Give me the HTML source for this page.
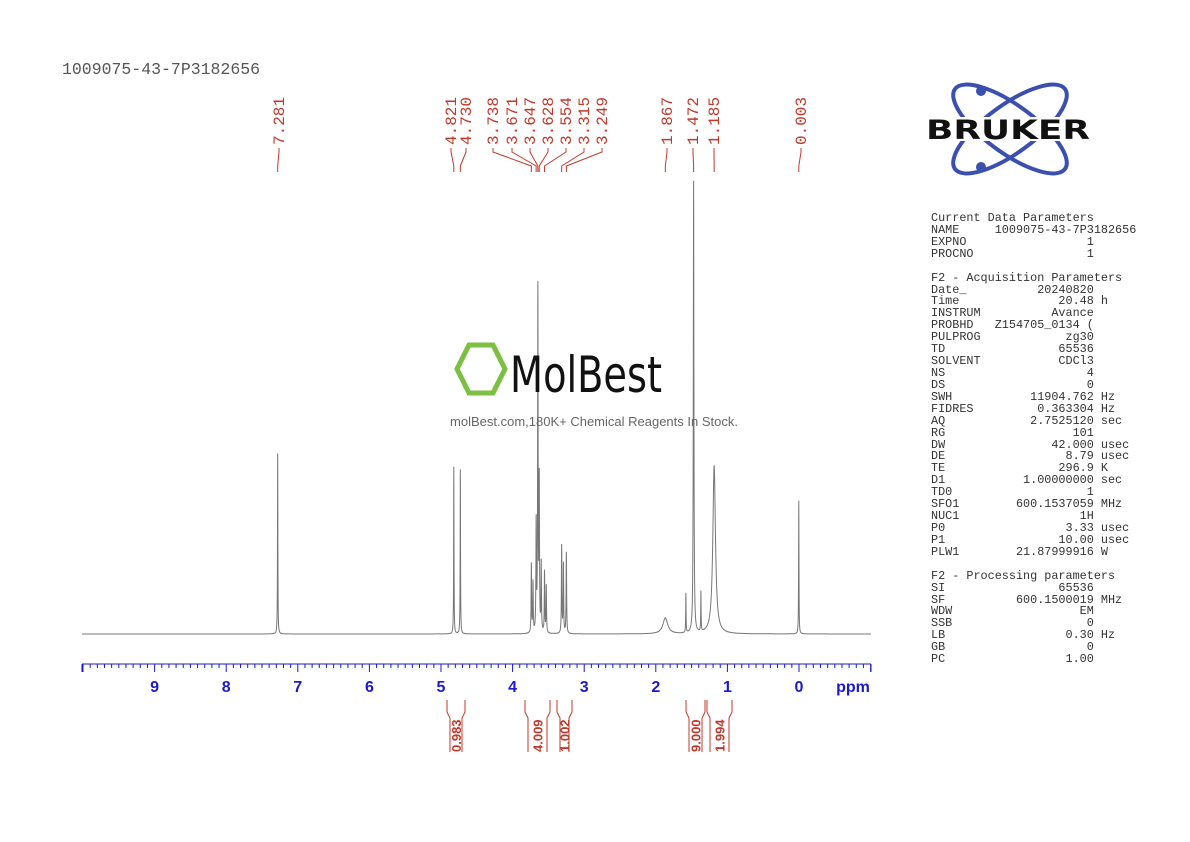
<!DOCTYPE html>
<html><head><meta charset="utf-8"><style>
body{margin:0;background:#fff;width:1190px;height:842px;overflow:hidden;position:relative}
pre{margin:0;font-family:"Liberation Mono",monospace}
</style></head><body>
<svg id="s" width="1190" height="842" style="position:absolute;left:0;top:0" xmlns="http://www.w3.org/2000/svg">
<text x="62" y="74" font-family="Liberation Mono,monospace" font-size="16.5" fill="#555">1009075-43-7P3182656</text>
<g id="labels" font-family="Liberation Mono,monospace" font-size="16" fill="#c0392b"></g>
<g id="conn" stroke="#c0392b" stroke-width="1" fill="none"></g>
<path id="spec" stroke="#777" stroke-width="1" fill="none"/>
<g id="axis" stroke="#1a1acc" stroke-width="1"></g>
<g id="axl" font-family="Liberation Sans,sans-serif" font-weight="bold" font-size="16" fill="#1a1acc" text-anchor="middle"></g>
<g id="integ" stroke="#c0392b" stroke-width="1" fill="none"></g>
<g id="intl" font-family="Liberation Sans,sans-serif" font-weight="bold" font-size="13" fill="#c0392b"></g>
<!-- Bruker logo -->
<ellipse cx="1010" cy="129" rx="68" ry="24" transform="rotate(36 1010 129)" stroke="#3a4fb0" stroke-width="4" fill="none"/>
<ellipse cx="1010" cy="129" rx="68" ry="24" transform="rotate(-36 1010 129)" stroke="#3a4fb0" stroke-width="4" fill="none"/>
<circle cx="981" cy="91" r="5" fill="#3a4fb0"/><circle cx="981" cy="167" r="5" fill="#3a4fb0"/>
<rect x="925" y="117" width="166" height="24" fill="#fff"/>
<text x="926" y="139" font-family="DejaVu Sans,sans-serif" font-weight="bold" font-size="27" fill="#111" textLength="164" lengthAdjust="spacingAndGlyphs">BRUKER</text>
<!-- MolBest -->
<polygon points="469,345 493,345 505,369 493,393 469,393 457,369" stroke="#7bc043" stroke-width="5" fill="none"/>
<text x="510" y="392" font-family="DejaVu Sans Condensed,Liberation Sans,sans-serif" font-size="50" fill="#111" textLength="152" lengthAdjust="spacingAndGlyphs">MolBest</text>
<text x="594" y="426" text-anchor="middle" font-family="Liberation Sans,sans-serif" font-size="13" fill="#666">molBest.com,180K+ Chemical Reagents In Stock.</text>
</svg>
<pre style="position:absolute;left:931px;top:213px;font-size:11.8px;line-height:11.92px;color:#333">Current Data Parameters
NAME     1009075-43-7P3182656
EXPNO                 1
PROCNO                1

F2 - Acquisition Parameters
Date_          20240820
Time              20.48 h
INSTRUM          Avance
PROBHD   Z154705_0134 (
PULPROG            zg30
TD                65536
SOLVENT           CDCl3
NS                    4
DS                    0
SWH           11904.762 Hz
FIDRES         0.363304 Hz
AQ            2.7525120 sec
RG                  101
DW               42.000 usec
DE                 8.79 usec
TE                296.9 K
D1           1.00000000 sec
TD0                   1
SFO1        600.1537059 MHz
NUC1                 1H
P0                 3.33 usec
P1                10.00 usec
PLW1        21.87999916 W

F2 - Processing parameters
SI                65536
SF          600.1500019 MHz
WDW                  EM
SSB                   0
LB                 0.30 Hz
GB                    0
PC                 1.00</pre>
<script>
const X=p=>799-71.6*p, NS="http://www.w3.org/2000/svg";
function el(g,t,a,txt){const e=document.createElementNS(NS,t);for(const k in a)e.setAttribute(k,a[k]);if(txt!=null)e.textContent=txt;document.getElementById(g).appendChild(e);return e;}
const peaks=[[7.281,182,.003],[4.821,168,.003],[4.730,168,.003],[3.738,70,.004],[3.715,50,.004],[3.671,110,.004],[3.647,345,.004],[3.628,150,.004],[3.60,70,.004],[3.554,62,.004],[3.53,48,.004],[3.315,90,.004],[3.29,70,.004],[3.249,82,.004],[1.867,16,.04],[1.58,40,.003],[1.472,452,.005],[1.37,40,.003],[1.185,168,.022],[0.003,134,.003]];
let d="";for(let x=82;x<=871;x+=0.1){const p=(799-x)/71.6;let y=0;for(const[c,a,w]of peaks){const u=(p-c)/w;y+=a/(1+u*u);}d+=(x===82?"M":"L")+x.toFixed(1)+","+(634-y).toFixed(1);}
document.getElementById("spec").setAttribute("d",d);
el("axis","line",{x1:82,y1:664,x2:871,y2:664});
for(let i=-10;i<=100;i++){const p=i/10,x=X(p);if(x<81.5||x>871.5)continue;const maj=i%10===0;el("axis","line",{x1:x,y1:664,x2:x,y2:maj?672:668});if(maj&&i>=0&&i<=90)el("axl","text",{x:x,y:692},String(p));}
el("axis","line",{x1:82,y1:664,x2:82,y2:672});el("axis","line",{x1:871,y1:664,x2:871,y2:672});
el("axl","text",{x:853,y:692},"ppm");
const L=[[7.281,279],[4.821,451],[4.730,466],[3.738,493],[3.671,512],[3.647,530],[3.628,548],[3.554,566],[3.315,584],[3.249,602],[1.867,667],[1.472,693],[1.185,714],[0.003,801]];
for(const[p,lx]of L){el("labels","text",{x:0,y:0,transform:`translate(${lx+5},145) rotate(-90)`},p.toFixed(3));const px=X(p);el("conn","path",{d:`M${lx},148 L${lx},152 L${px},166 L${px},172`});}
const I=[[447,465,"0.983"],[525,550,"4.009"],[557,572,"1.002"],[686,705,"9.000"],[707,732,"1.994"]];
for(const[a,b,t]of I){el("integ","path",{d:`M${a},700 L${a},712 L${a+3},718 L${a+3},752 M${b},700 L${b},712 L${b-3},718 L${b-3},752`});el("intl","text",{transform:`translate(${(a+b)/2+5},752) rotate(-90)`},t);}
</script>
</body></html>
